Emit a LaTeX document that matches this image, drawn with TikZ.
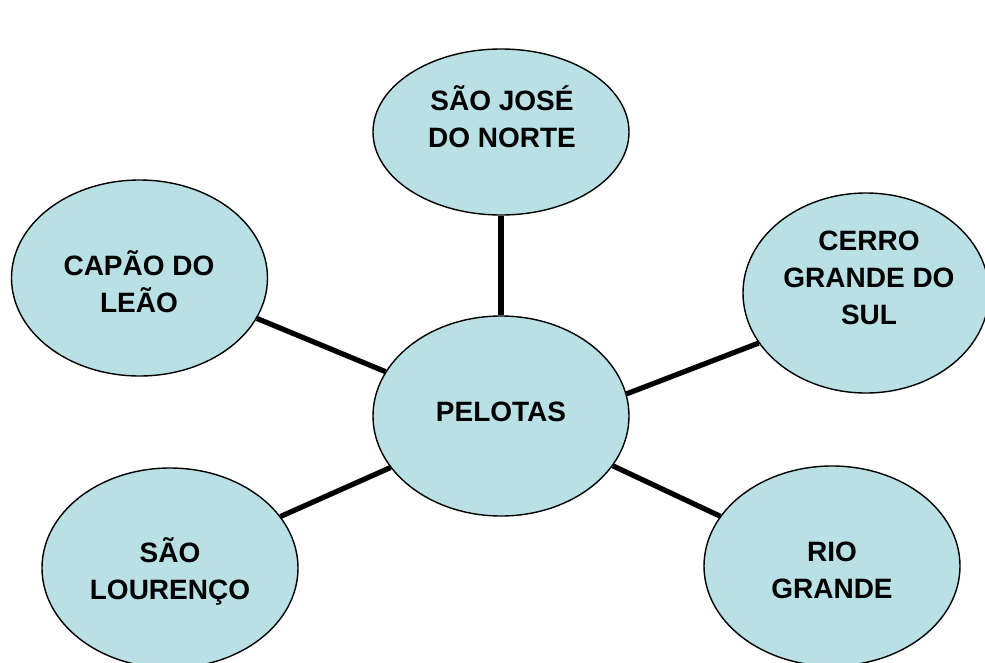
\documentclass[tikz,border=0pt]{standalone}
\usepackage{fontspec}
\setmainfont{Liberation Sans}
\usetikzlibrary{shapes.geometric}
\definecolor{cityfill}{RGB}{185,224,228}
\tikzset{
  city/.style={ellipse, draw=black, line width=1.4pt, fill=cityfill, inner sep=0pt},
  lbl/.style={align=center, font=\fontsize{28}{37}\selectfont\bfseries, inner sep=0pt},
  link/.style={line width=5.2pt, black}
}
\begin{document}
\begin{tikzpicture}[x=1pt,y=-1pt]
\useasboundingbox (0,0) rectangle (985,662);
\begin{scope}
\clip (0,0) rectangle (985,662);
\node[city, minimum width=256pt, minimum height=166pt] (sj) at (501,132) {};
\node[city, minimum width=256pt, minimum height=196pt] (cap) at (139.5,278) {};
\node[city, minimum width=246pt, minimum height=200pt] (cer) at (866,293) {};
\node[city, minimum width=256pt, minimum height=200pt] (pel) at (501,416) {};
\node[city, minimum width=256pt, minimum height=200pt] (lou) at (170,568) {};
\node[city, minimum width=256pt, minimum height=200pt] (rio) at (832,566) {};

\draw[link] (sj.south) -- (pel.north);
\draw[link] (cap.-19) -- (pel.159);
\draw[link] (pel.10.7) -- (cer.205);
\draw[link] (pel.205) -- (lou.25);
\draw[link] (pel.-24.7) -- (rio.156);

\node[lbl] (tsj) at (502,116.5) {SÃO JOSÉ\\DO NORTE};
\node[lbl] (tcap) at (139,281.5) {CAPÃO DO\\LEÃO};
\node[lbl] (tcer) at (869,278) {CERRO\\GRANDE DO\\SUL};
\node[lbl] (tpel) at (501,412) {PELOTAS};
\node[lbl] (tlou) at (170,571) {SÃO\\LOURENÇO};
\node[lbl] (trio) at (832,570) {RIO\\GRANDE};
\end{scope}
\end{tikzpicture}
\end{document}
